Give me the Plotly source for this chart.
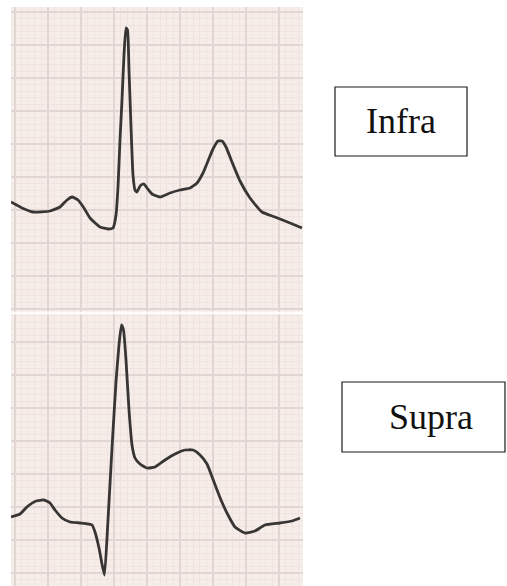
import plotly.graph_objects as go

W, H = 507, 586

# Infra (top) ECG trace, in picture pixel units (x right, y down)
infra_x = [11, 22, 33, 50, 60, 67, 72, 78, 84, 90, 100, 108, 113, 116, 118, 120, 122, 124, 126, 127.5, 129, 131, 133, 135, 137, 139, 141, 144, 147, 152, 160, 170, 180, 190, 197, 203, 208, 213, 218, 222, 226, 232, 240, 250, 262, 275, 290, 302]
infra_y = [202, 208, 212, 211, 207, 200, 197, 200, 208, 218, 227, 229, 228, 215, 187, 140, 100, 55, 28, 30, 70, 127, 175, 190, 192, 188, 185, 184, 188, 194, 197, 193, 190, 188, 183, 173, 161, 149, 141, 141, 147, 162, 181, 198, 212, 217, 223, 228]

# Supra (bottom) ECG trace
supra_x = [11, 20, 28, 36, 44, 50, 55, 62, 70, 80, 92, 95, 99, 102, 104.5, 108, 112, 116, 119, 121.5, 123.5, 126, 129, 132, 135, 140, 147, 155, 165, 175, 185, 193, 200, 207, 214, 221, 228, 235, 245, 255, 265, 280, 292, 300]
supra_y = [517, 514, 506, 501, 500, 503, 510, 518, 522, 523, 525, 532, 548, 564, 575, 520, 448, 382, 345, 325, 330, 360, 410, 445, 458, 464, 468, 467, 460, 454, 450, 450, 455, 464, 482, 500, 515, 527, 533, 531, 525, 523, 521, 518]

labels = ["Infra", "Supra"]
label_x = [401, 431]
label_y = [121, 417]
box_x0 = [335, 342]
box_x1 = [467, 505]
box_y0 = [87, 382]
box_y1 = [156, 452]

PANEL = dict(x0=11, x1=303, y0=7, y1=586)

fig = go.Figure()

line_style = dict(color="#383535", width=2.8, shape="spline", smoothing=0.45)
fig.add_trace(go.Scatter(x=infra_x, y=infra_y, mode="lines", line=line_style, xaxis="x2", yaxis="y2",
                         hoverinfo="skip", showlegend=False))
fig.add_trace(go.Scatter(x=supra_x, y=supra_y, mode="lines", line=line_style, xaxis="x2", yaxis="y2",
                         hoverinfo="skip", showlegend=False))
# anchor trace for the full-page axes
fig.add_trace(go.Scatter(x=[0, W], y=[0, H], mode="markers", marker=dict(opacity=0),
                         hoverinfo="skip", showlegend=False))

shapes = [
    dict(type="rect", xref="x", yref="y", x0=PANEL["x0"], x1=PANEL["x1"], y0=PANEL["y0"], y1=PANEL["y1"],
         fillcolor="#f6ece8", line=dict(width=0), layer="below"),
    dict(type="line", xref="x2", yref="y2", x0=PANEL["x0"], x1=PANEL["x1"], y0=313, y1=313,
         line=dict(color="rgba(255,255,255,0.8)", width=3), layer="between"),
]
for i in range(2):
    shapes.append(dict(type="rect", xref="x", yref="y", x0=box_x0[i], x1=box_x1[i], y0=box_y0[i], y1=box_y1[i],
                       line=dict(color="#1a1a1a", width=1.2), fillcolor="rgba(0,0,0,0)"))

annotations = [dict(x=label_x[i], y=label_y[i], xref="x", yref="y", text=labels[i], showarrow=False,
                    font=dict(family="Liberation Serif, DejaVu Serif, serif", size=36, color="#111111"))
               for i in range(2)]

fig.update_layout(
    width=W, height=H, margin=dict(l=0, r=0, t=0, b=0),
    paper_bgcolor="white", plot_bgcolor="rgba(0,0,0,0)",
    xaxis=dict(range=[0, W], visible=False, showgrid=False, zeroline=False, domain=[0, 1]),
    yaxis=dict(range=[H, 0], visible=False, showgrid=False, zeroline=False, domain=[0, 1]),
    xaxis2=dict(domain=[PANEL["x0"] / W, PANEL["x1"] / W], range=[PANEL["x0"], PANEL["x1"]], anchor="y2",
                showgrid=True, gridcolor="#e1d6d3", gridwidth=1.4, dtick=33, tick0=15,
                minor=dict(showgrid=True, gridcolor="#efe4e0", gridwidth=1, dtick=6.6, tick0=15),
                showticklabels=False, ticks="", zeroline=False, showline=False),
    yaxis2=dict(domain=[0, 1 - PANEL["y0"] / H], range=[PANEL["y1"], PANEL["y0"]], anchor="x2",
                showgrid=True, gridcolor="#e1d6d3", gridwidth=1.4, dtick=33, tick0=12,
                minor=dict(showgrid=True, gridcolor="#efe4e0", gridwidth=1, dtick=6.6, tick0=12),
                showticklabels=False, ticks="", zeroline=False, showline=False),
    shapes=shapes,
    annotations=annotations,
)

fig.write_html("out.html", config={"displayModeBar": False, "staticPlot": True},
               post_script="document.body.style.margin='0';document.body.style.overflow='hidden';")
